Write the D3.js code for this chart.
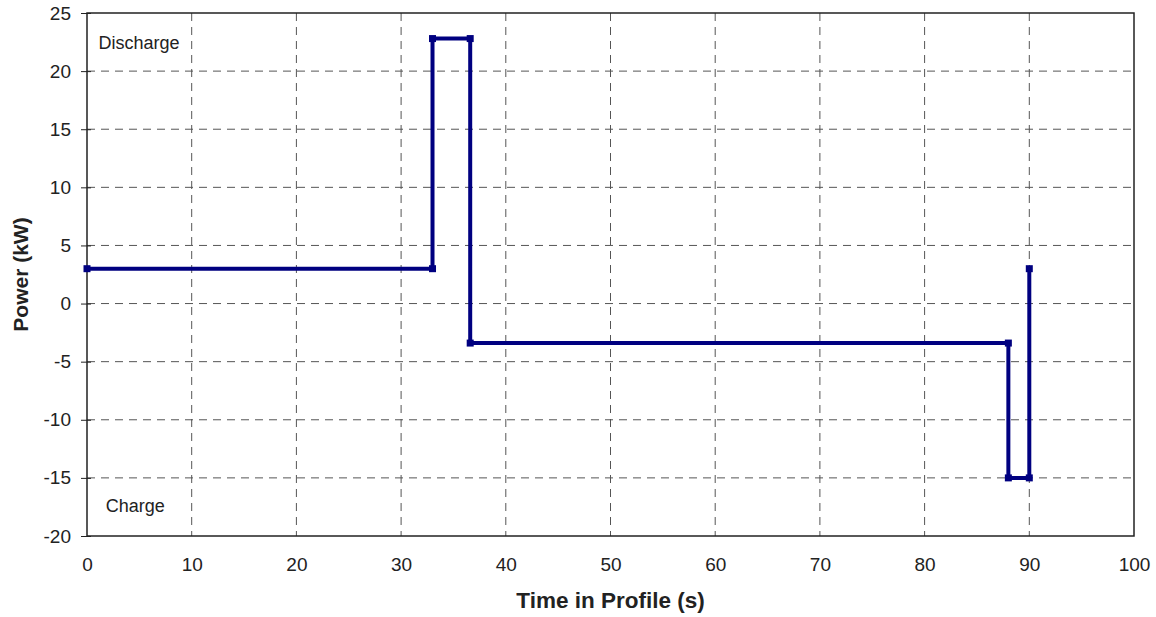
<!DOCTYPE html>
<html>
<head>
<meta charset="utf-8">
<script src="https://cdn.jsdelivr.net/npm/d3@7"></script>
<style>
  body { margin: 0; background: #fff; }
  svg { display: block; font-family: Arial, "Liberation Sans", sans-serif; }
</style>
</head>
<body>
<svg id="chart" width="1156" height="617"></svg>
<script>
// Data
const timeValues  = [0, 33, 33, 36.6, 36.6, 88, 88, 90, 90];
const powerValues = [3, 3, 22.8, 22.8, -3.4, -3.4, -15, -15, 3];
const xTicks = [0, 10, 20, 30, 40, 50, 60, 70, 80, 90, 100];
const yTicks = [-20, -15, -10, -5, 0, 5, 10, 15, 20, 25];
const annotations = [
  { text: "Discharge", x: 1.1, y: 21.9 },
  { text: "Charge",    x: 1.8, y: -17.9 }
];

const svg = d3.select("#chart");
const margin = { left: 87, right: 22, top: 13, bottom: 81 };
const W = 1156, H = 617;
const FONT = "Arial, 'Liberation Sans', sans-serif";
const x = d3.scaleLinear().domain([0, 100]).range([margin.left, W - margin.right]);
const y = d3.scaleLinear().domain([-20, 25]).range([H - margin.bottom, margin.top]);

const grid = svg.append("g");
grid.selectAll("line.gx").data(xTicks.slice(1, -1)).join("line")
  .attr("x1", d => x(d)).attr("x2", d => x(d))
  .attr("y1", y(25)).attr("y2", y(-20))
  .attr("stroke", "#555").attr("stroke-width", 1).attr("stroke-dasharray", "8,6");
grid.selectAll("line.gy").data(yTicks.slice(1, -1)).join("line")
  .attr("x1", x(0)).attr("x2", x(100))
  .attr("y1", d => y(d)).attr("y2", d => y(d))
  .attr("stroke", "#555").attr("stroke-width", 1).attr("stroke-dasharray", "8,6");

// Frame
svg.append("rect")
  .attr("x", x(0)).attr("y", y(25))
  .attr("width", x(100) - x(0)).attr("height", y(-20) - y(25))
  .attr("fill", "none").attr("stroke", "#222").attr("stroke-width", 1.5);

// Y axis
const yAxis = svg.append("g")
  .attr("transform", `translate(${x(0)},0)`)
  .call(d3.axisLeft(y).tickValues(yTicks).tickFormat(d => String(d)).tickSize(6).tickPadding(10));
yAxis.select(".domain").remove();
yAxis.selectAll(".tick line").attr("stroke", "#222").attr("x2", -6).attr("x1", 4);
yAxis.selectAll(".tick text").attr("font-size", 19).attr("fill", "#222")
  .attr("font-family", FONT);

// X axis
const xAxis = svg.append("g")
  .attr("transform", `translate(0,${y(-20)})`)
  .call(d3.axisBottom(x).tickValues(xTicks).tickFormat(d => String(d)).tickSize(0).tickPadding(22));
xAxis.select(".domain").remove();
xAxis.selectAll(".tick text").attr("font-size", 19).attr("fill", "#222")
  .attr("font-family", FONT);

// Axis titles
svg.append("text")
  .attr("x", (x(0) + x(100)) / 2).attr("y", 608)
  .attr("text-anchor", "middle").attr("font-size", 22.5).attr("font-weight", "bold")
  .attr("fill", "#222").text("Time in Profile (s)");
svg.append("text")
  .attr("transform", `translate(27.5,${y(2.5)}) rotate(-90)`)
  .attr("text-anchor", "middle").attr("font-size", 21).attr("font-weight", "bold")
  .attr("fill", "#222").text("Power (kW)");

// Annotations
svg.selectAll("text.ann").data(annotations).join("text")
  .attr("x", d => x(d.x)).attr("y", d => y(d.y))
  .attr("font-size", 18).attr("fill", "#222").text(d => d.text);

// Series
const pts = timeValues.map((t, i) => [t, powerValues[i]]);
svg.append("path")
  .datum(pts)
  .attr("d", d3.line().x(d => x(d[0])).y(d => y(d[1])))
  .attr("fill", "none").attr("stroke", "#000080").attr("stroke-width", 4)
  .attr("stroke-linejoin", "miter");
svg.selectAll("rect.m").data(pts).join("rect")
  .attr("x", d => x(d[0]) - 3.5).attr("y", d => y(d[1]) - 3.5)
  .attr("width", 7).attr("height", 7).attr("fill", "#000080");
</script>
</body>
</html>
